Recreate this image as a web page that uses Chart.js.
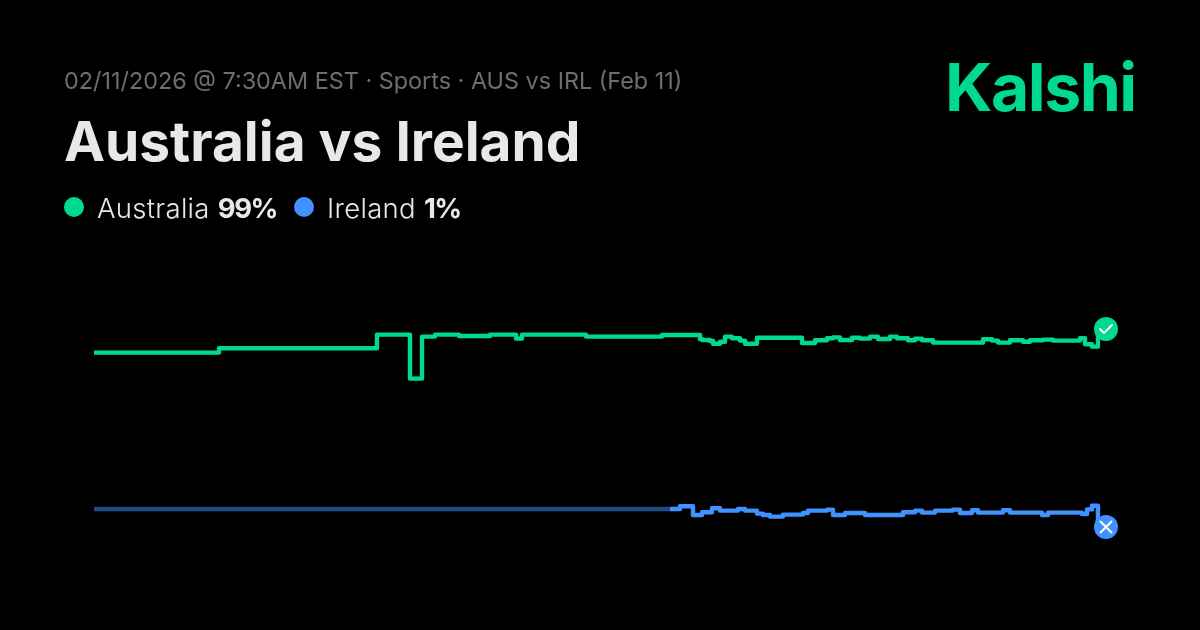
<!DOCTYPE html>
<html><head><meta charset="utf-8">
<script src="https://cdn.jsdelivr.net/npm/chart.js@4"></script>
<style>
html,body{margin:0;padding:0;background:#000;width:1200px;height:630px;overflow:hidden;font-family:Inter,sans-serif}
#c{position:absolute;left:0;top:0}
.t{position:absolute;white-space:nowrap;line-height:1}
#sub{left:64px;top:69px;font-size:23.4px;color:#6e6e6e;font-weight:400}
#title{left:64px;top:114px;font-size:55px;font-weight:700;color:#e8e8e8}
#logo{left:945px;top:54px;font-size:66px;font-weight:700;color:#00d991;letter-spacing:-1.5px}
.lg{top:195px;font-size:27.5px;color:#e8e8e8;font-weight:300;letter-spacing:.3px}
.lg b{font-weight:700;letter-spacing:-1.5px}
.dot{position:absolute;top:197px;width:20px;height:20px;border-radius:50%}
</style></head><body>
<canvas id="c" width="1200" height="630"></canvas>
<div class="t" id="sub"></div>
<div class="t" id="title"></div>
<div class="t" id="logo"></div>
<div class="dot" id="d0" style="left:64px"></div>
<div class="t lg" id="l0" style="left:97px"></div>
<div class="dot" id="d1" style="left:294px"></div>
<div class="t lg" id="l1" style="left:327px"></div>
<script>
const subtitle = "02/11/2026 @ 7:30AM EST · Sports · AUS vs IRL (Feb 11)";
const titleText = "Australia vs Ireland";
const brand = "Kalshi";
const names = ["Australia", "Ireland"];
const finals = ["99%", "1%"];
const green = "#00d991", blue = "#4092ff", blueDim = "#1f4a85";

const ausT = [0,125,283,316,328,341,365,396,422,428,492,568,606,608,616,619,626,631,638,646,651,663,708,721,733,739,746,758,766,776,784,796,803,814,821,828,839,889,898,904,916,929,936,949,959,986,991,998,1004];
const ausV = [68.1,69.2,72.6,61.6,72.1,72.6,72.25,72.6,71.6,72.6,72.1,72.5,71.5,71.25,71,70.3,70.8,72.1,71.7,71.1,70.3,71.8,70.5,71.2,71.7,71.9,71.25,71.8,71.6,72.1,71.5,72.1,71.7,71.2,71.6,71.2,70.6,71.45,71.1,70.6,71.2,70.8,71.2,71.35,71.1,71.7,70.2,69.6,73.75];
const ireT = [0,576,586,599,608,618,626,644,651,663,669,676,689,709,714,733,739,751,771,809,821,828,841,859,866,878,884,909,916,948,954,988,993,998,1004];
const ireV = [29,29,29.7,27.5,28.2,29.2,28.6,29,28.6,27.85,27.5,27.1,27.6,28,28.6,28.85,27.5,28,27.5,28.2,28.6,28.1,28.6,28.85,28,28.7,28.1,28.7,28.1,27.5,28.1,27.75,28.9,29.8,26.25];
const fadeEnd = 576;
const endT = 1012;
const ausEnd = 74, ireEnd = 24.5;

document.getElementById("sub").textContent = subtitle;
document.getElementById("title").textContent = titleText;
document.getElementById("logo").textContent = brand;
document.getElementById("l0").innerHTML = names[0] + " <b>" + finals[0] + "</b>";
document.getElementById("l1").innerHTML = names[1] + " <b>" + finals[1] + "</b>";
document.getElementById("d0").style.background = green;
document.getElementById("d1").style.background = blue;

const zip = (t, v) => t.map((x, i) => ({x, y: v[i]}));
const line = (label, t, v, color, extra) => Object.assign({
  label, data: zip(t, v), borderColor: color, borderWidth: 4.4, stepped: true,
  pointRadius: 0, borderJoinStyle: "round", borderCapStyle: "butt", fill: false, clip: false
}, extra || {});
const marker = (label, t, v, color, glyph) => ({
  label, data: [{x: t, y: v}], showLine: false, pointRadius: 12, pointHoverRadius: 12,
  pointBackgroundColor: color, pointBorderWidth: 0, clip: false, glyph
});
const glyphs = {
  afterDatasetsDraw(chart) {
    const g = chart.ctx;
    chart.data.datasets.forEach((d, i) => {
      if (!d.glyph) return;
      const p = chart.getDatasetMeta(i).data[0];
      g.save();
      g.strokeStyle = "#fff"; g.lineWidth = 2; g.lineCap = "round"; g.lineJoin = "round";
      g.translate(p.x, p.y);
      g.beginPath();
      if (d.glyph === "check") { g.moveTo(-6, 0); g.lineTo(-2, 4); g.lineTo(6, -4); }
      else { g.moveTo(-5.5, -5.5); g.lineTo(5.5, 5.5); g.moveTo(5.5, -5.5); g.lineTo(-5.5, 5.5); }
      g.stroke();
      g.restore();
    });
  }
};
new Chart(document.getElementById("c"), {
  type: "line",
  data: { datasets: [
    line(names[1], ireT, ireV, blue, { segment: { borderColor: c => c.p1.parsed.x <= fadeEnd ? blueDim : blue } }),
    line(names[0], ausT, ausV, green),
    marker(names[1] + " end", endT, ireEnd, blue, "x"),
    marker(names[0] + " end", endT, ausEnd, green, "check")
  ]},
  options: {
    responsive: false, animation: false, devicePixelRatio: 1,
    layout: { autoPadding: false, padding: { left: 94, right: 82, top: 225, bottom: 5 } },
    scales: {
      x: { type: "linear", display: false, min: 0, max: 1024 },
      y: { display: false, min: 0, max: 100 }
    },
    plugins: { legend: { display: false }, tooltip: { enabled: false } }
  },
  plugins: [glyphs]
});
</script>
</body></html>
